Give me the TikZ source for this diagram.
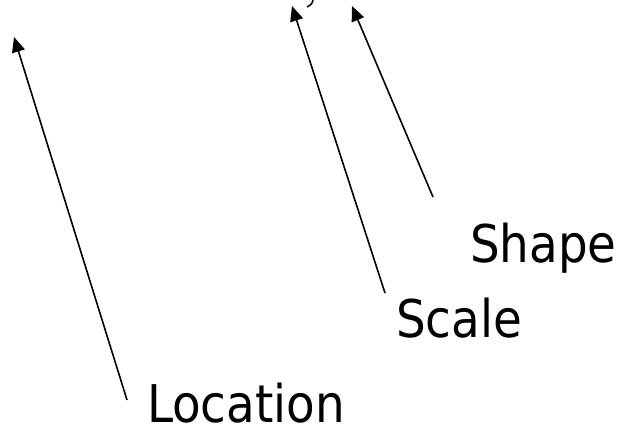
\documentclass[tikz,border=0pt]{standalone}
\usepackage{fontspec}
\setmainfont{DejaVu Sans Condensed}
\usetikzlibrary{arrows.meta}
\begin{document}
\begin{tikzpicture}[x=1pt,y=-1pt,
  label/.style={inner sep=0pt,anchor=base west,font=\fontsize{52}{62}\selectfont},
  pointer/.style={line width=1.6pt,-{Triangle[length=15pt,width=13pt]}}]
\useasboundingbox (0,0) rectangle (620,433);
% labels
\node[label] (location) at (147,422) {Location};
\node[label] (scale) at (396,337) {Scale};
\node[label] (shape) at (470,262) {Shape};
% pointer ends
\coordinate (locTail) at (127,400);
\coordinate (locTip) at (14,37);
\coordinate (scaTail) at (385,293);
\coordinate (scaTip) at (292,6);
\coordinate (shaTail) at (433,197);
\coordinate (shaTip) at (352,6);
\draw[pointer] (locTail) -- (locTip);
\draw[pointer] (scaTail) -- (scaTip);
\draw[pointer] (shaTail) -- (shaTip);
% stroke of a bracket at the top edge
\draw[line width=1.5pt] (313,-1) .. controls (313,3) and (311,5) .. (307,7);
\end{tikzpicture}
\end{document}
